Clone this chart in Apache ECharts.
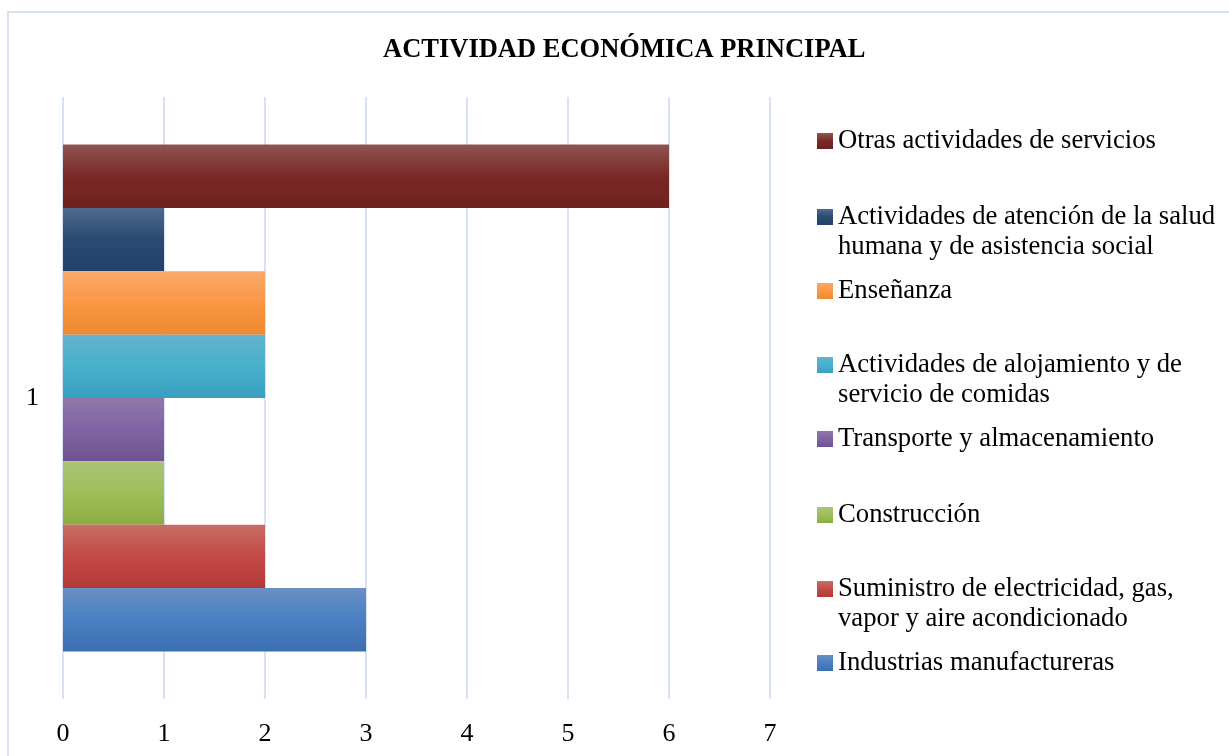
<!DOCTYPE html>
<html>
<head>
<meta charset="utf-8">
<script src="https://cdn.jsdelivr.net/npm/echarts@6/dist/echarts.min.js"></script>
<style>
  html, body { margin: 0; padding: 0; background: #ffffff; }
  #chart { width: 1229px; height: 756px; }
</style>
</head>
<body>
<div id="chart"></div>
<script>
// Category and tick labels
const categories = ['1'];
const xTicks = [0, 1, 2, 3, 4, 5, 6, 7];

// Series, listed from the top bar to the bottom bar
const seriesNames = [
  'Otras actividades de servicios',
  'Actividades de atención de la salud humana y de asistencia social',
  'Enseñanza',
  'Actividades de alojamiento y de servicio de comidas',
  'Transporte y almacenamiento',
  'Construcción',
  'Suministro de electricidad, gas, vapor y aire acondicionado',
  'Industrias manufactureras'
];
const seriesValues = [6, 1, 2, 2, 1, 1, 2, 3];

// Legend text as it wraps on screen
const legendLabels = [
  'Otras actividades de servicios',
  'Actividades de atención de la salud\nhumana y de asistencia social',
  'Enseñanza',
  'Actividades de alojamiento y de\nservicio de comidas',
  'Transporte y almacenamiento',
  'Construcción',
  'Suministro de electricidad, gas,\nvapor y aire acondicionado',
  'Industrias manufactureras'
];

// Three-stop vertical shading per series: light top, base, darker bottom
const shades = [
  ['#8D5551', '#7B2826', '#6F211F'],
  ['#4F6A8A', '#2A4A73', '#22426C'],
  ['#F9A86B', '#FA9744', '#EE8930'],
  ['#63B3CB', '#48B0CD', '#3A9FBF'],
  ['#9078AA', '#8063A2', '#6F5291'],
  ['#A9C476', '#9EBF58', '#8CAB45'],
  ['#C96C67', '#C34A46', '#B33936'],
  ['#6890C4', '#4A80C2', '#3B6FB0']
];

// First-line centre (px) of each legend entry, same order as the series
const legendCenters = [141, 217, 291, 365, 439, 515, 589, 663];

const FONT = '"Liberation Serif", "Times New Roman", serif';
const GRID_COLOR = '#D7E3F3';

function grad(c) {
  return new echarts.graphic.LinearGradient(0, 0, 0, 1, [
    { offset: 0, color: c[0] },
    { offset: 0.5, color: c[1] },
    { offset: 1, color: c[2] }
  ]);
}

const series = seriesNames.map((name, i) => ({
  name: name,
  type: 'bar',
  data: [seriesValues[i]],
  barGap: '0%',
  barCategoryGap: '15.8%',
  itemStyle: { color: grad(shades[i]) },
  emphasis: { disabled: true }
}));

// One legend block per entry; wrapped entries get an empty leading line so the
// swatch sits beside the first line of text.
const legends = seriesNames.map((name, i) => {
  const multi = legendLabels[i].indexOf('\n') >= 0;
  return {
    data: [name],
    left: 817,
    top: legendCenters[i] - (multi ? 45 : 15),
    orient: 'vertical',
    padding: 0,
    itemWidth: 16,
    itemHeight: 16,
    icon: 'rect',
    selectedMode: false,
    formatter: () => (multi ? '\n' : '') + legendLabels[i],
    textStyle: {
      fontFamily: FONT,
      fontSize: 26.7,
      lineHeight: 30,
      color: '#000000'
    }
  };
});

const chart = echarts.init(document.getElementById('chart'), null, { renderer: 'canvas' });
chart.setOption({
  animation: false,
  backgroundColor: '#ffffff',
  title: {
    text: 'ACTIVIDAD ECONÓMICA PRINCIPAL',
    left: 383,
    top: 37,
    padding: 0,
    textStyle: { fontFamily: FONT, fontSize: 26.5, fontWeight: 'bold', color: '#000000', lineHeight: 27 }
  },
  graphic: [{
    type: 'rect',
    shape: { x: 8, y: 12, width: 1260, height: 800 },
    style: { fill: 'none', stroke: GRID_COLOR, lineWidth: 2 },
    silent: true,
    z: 0
  }],
  legend: legends,
  grid: { left: 63, right: 459, top: 97, bottom: 57, containLabel: false },
  xAxis: {
    type: 'value',
    min: xTicks[0],
    max: xTicks[xTicks.length - 1],
    interval: 1,
    axisLine: { show: false },
    axisTick: { show: false },
    splitLine: { show: true, lineStyle: { color: GRID_COLOR, width: 2 } },
    axisLabel: { fontFamily: FONT, fontSize: 26, color: '#000000', margin: 22 }
  },
  yAxis: {
    type: 'category',
    data: categories,
    axisLine: { show: false },
    axisTick: { show: false },
    axisLabel: { fontFamily: FONT, fontSize: 26, color: '#000000', margin: 24 }
  },
  series: series
});
</script>
</body>
</html>
